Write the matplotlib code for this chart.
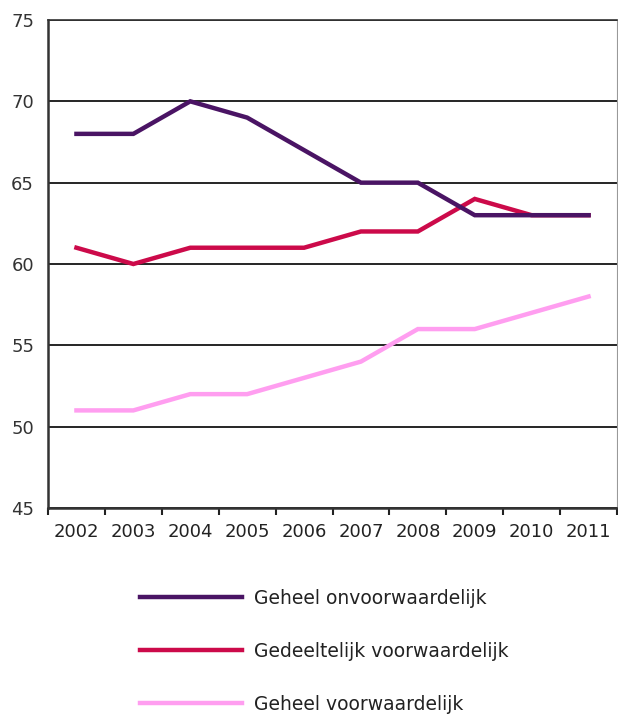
import matplotlib.pyplot as plt
import numpy as np

years = ['2002', '2003', '2004', '2005', '2006', '2007', '2008', '2009', '2010', '2011']
geheel_onvoorwaardelijk = [68, 68, 70, 69, 67, 65, 65, 63, 63, 63]
gedeeltelijk_voorwaardelijk = [61, 60, 61, 61, 61, 62, 62, 64, 63, 63]
geheel_voorwaardelijk = [51, 51, 52, 52, 53, 54, 56, 56, 57, 58]

labels = ['Geheel onvoorwaardelijk', 'Gedeeltelijk voorwaardelijk', 'Geheel voorwaardelijk']
colors = ['#4a1464', '#cc0a4a', '#ff9ef0']

fig = plt.figure(figsize=(6.18, 7.15), dpi=100)
ax = fig.add_axes([48/618, 1-508/715, (617-48)/618, (508-20)/715])

x = np.arange(len(years))
# volgorde: roze onder, dan rood, paars bovenop
ax.plot(x, geheel_voorwaardelijk, color=colors[2], lw=3.2, solid_joinstyle='miter', zorder=3)
ax.plot(x, gedeeltelijk_voorwaardelijk, color=colors[1], lw=3.2, solid_joinstyle='miter', zorder=4)
ax.plot(x, geheel_onvoorwaardelijk, color=colors[0], lw=3.2, solid_joinstyle='miter', zorder=5)

ax.set_xlim(-0.5, len(years) - 0.5)
ax.set_ylim(45, 75)
ax.set_yticks(np.arange(45, 76, 5))
ax.yaxis.grid(True, color='black', lw=1.2)
ax.set_axisbelow(True)

ax.set_xticks(x)
ax.set_xticklabels(years)
ax.set_xticks(np.arange(-0.5, len(years), 1), minor=True)
ax.tick_params(axis='x', which='major', length=0, pad=11, labelsize=13, labelcolor='#222222')
ax.tick_params(axis='x', which='minor', length=5, width=1.5, direction='out', color='#222222')
ax.tick_params(axis='y', length=0, pad=10, labelsize=13, labelcolor='#333333')

ax.spines['left'].set_color('#333333')
ax.spines['left'].set_linewidth(1.8)
ax.spines['bottom'].set_color('#333333')
ax.spines['bottom'].set_linewidth(1.8)
ax.spines['top'].set_color('#333333')
ax.spines['top'].set_linewidth(1.2)
ax.spines['right'].set_color('#999999')
ax.spines['right'].set_linewidth(0.8)

handles = [plt.Line2D([], [], color=c, lw=3.2) for c in colors]
fig.legend(handles, labels, loc='upper left', bbox_to_anchor=(140/618, 1-589/715),
           frameon=False, borderpad=0, borderaxespad=0, handlelength=5.45,
           handletextpad=0.62, labelspacing=1.8, fontsize=13.5, labelcolor='#222222')

plt.savefig('out.png', dpi=100)
